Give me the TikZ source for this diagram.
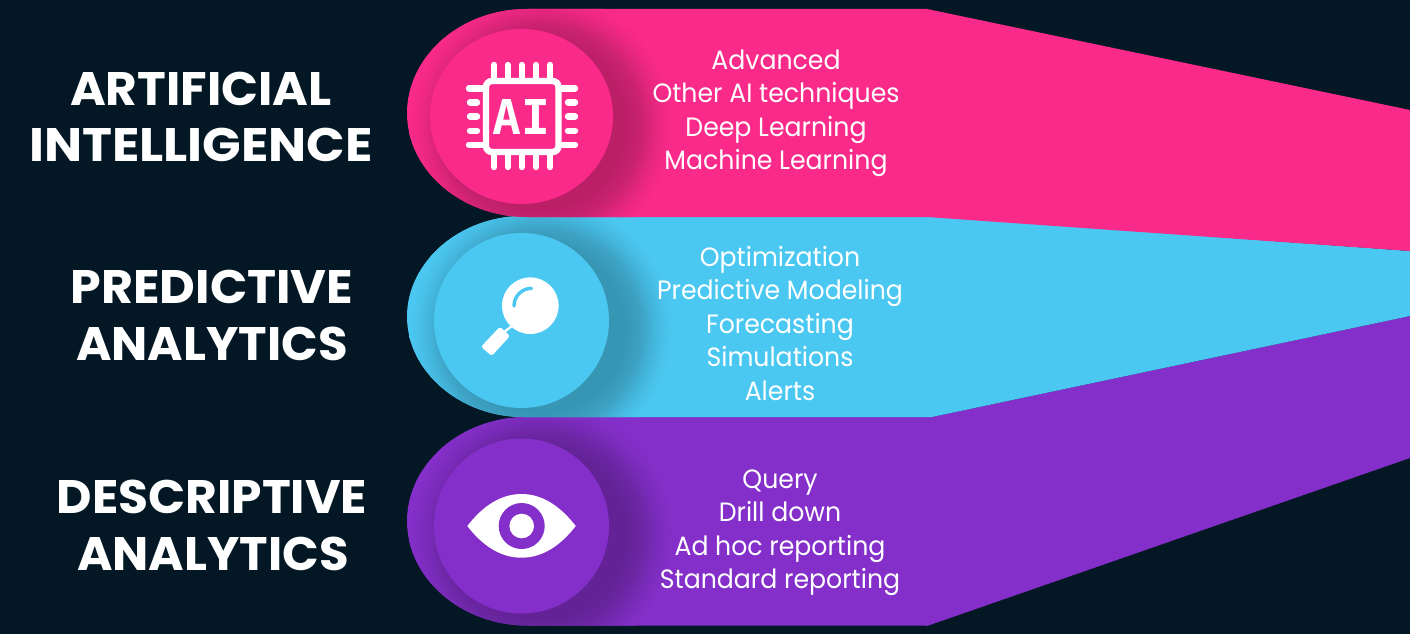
\documentclass[tikz,border=0pt]{standalone}
\usepackage{fontspec}
\setmainfont{Poppins}
\newfontfamily\iconfont{DejaVu Sans Mono}
\definecolor{bgc}{HTML}{031824}
\definecolor{pinkc}{HTML}{FA2A8A}
\definecolor{bluec}{HTML}{4BC8F2}
\definecolor{purplec}{HTML}{842FC9}
\colorlet{pinka}{pinkc!75!black}\colorlet{pinkb}{pinkc!81!black}\colorlet{pinkd}{pinkc!91!black}\colorlet{pinke}{pinkc!97!black}
\colorlet{bluea}{bluec!75!black}\colorlet{blueb}{bluec!81!black}\colorlet{blued}{bluec!91!black}\colorlet{bluee}{bluec!97!black}
\colorlet{purplea}{purplec!75!black}\colorlet{purpleb}{purplec!81!black}\colorlet{purpled}{purplec!91!black}\colorlet{purplee}{purplec!97!black}
\pgfdeclareradialshading{softpink}{\pgfpointorigin}{color(0bp)=(pinka); color(16bp)=(pinka); color(19bp)=(pinkb); color(21.5bp)=(pinkd); color(23.5bp)=(pinke); color(25bp)=(pinkc); color(50bp)=(pinkc)}
\pgfdeclareradialshading{softblue}{\pgfpointorigin}{color(0bp)=(bluea); color(16bp)=(bluea); color(19bp)=(blueb); color(21.5bp)=(blued); color(23.5bp)=(bluee); color(25bp)=(bluec); color(50bp)=(bluec)}
\pgfdeclareradialshading{softpurple}{\pgfpointorigin}{color(0bp)=(purplea); color(16bp)=(purplea); color(19bp)=(purpleb); color(21.5bp)=(purpled); color(23.5bp)=(purplee); color(25bp)=(purplec); color(50bp)=(purplec)}
\tikzset{
  headtxt/.style={text=white,anchor=base,inner sep=0pt,font=\fontsize{47}{47}\selectfont\bfseries,transform shape},
  bodytxt/.style={text=white,anchor=base,inner sep=0pt,font=\fontsize{26.5}{26.5}\selectfont,xscale=.95,transform shape},
  pinline/.style={white,line width=6.4pt,line cap=round}
}
\begin{document}
\begin{tikzpicture}[x=1pt,y=-1pt]
\useasboundingbox (0,0) rectangle (1410,634);
\fill[bgc] (0,0) rectangle (1410,634);
% purple band
\def\purpleband{(527,417) -- (932,417) -- (1410,316) -- (1410,458) -- (927,626) -- (927,625.5) -- (527,625.5) .. controls (461,625.5) and (407,578) .. (407,521) .. controls (407,464) and (461,417) .. (527,417) -- cycle}
\fill[purplec] \purpleband;
\begin{scope}\clip \purpleband; \shade[shading=softpurple] (541,534) circle[radius=132pt]; \end{scope}
\fill[purplec] (521.5,526) circle[radius=87.5pt];
% blue band
\def\blueband{(523,216) -- (927,216) -- (1410,251) -- (1410,316) -- (932,417) -- (523,417) .. controls (461,417) and (407,372) .. (407,316.5) .. controls (407,261) and (461,216) .. (523,216) -- cycle}
\fill[bluec] \blueband;
\begin{scope}\clip \blueband; \shade[shading=softblue] (541,329) circle[radius=132pt]; \end{scope}
\fill[bluec] (521.5,320.5) circle[radius=87.5pt];
% pink band
\def\pinkband{(527,9) -- (927,9) -- (1410,110) -- (1410,251) -- (927,217) -- (527,217) .. controls (461,217) and (407,170) .. (407,113) .. controls (407,56) and (461,9) .. (527,9) -- cycle}
\fill[pinkc] \pinkband;
\begin{scope}\clip \pinkband; \shade[shading=softpink] (541,125) circle[radius=132pt]; \end{scope}
\fill[pinkc] (521.5,116.5) ellipse[x radius=91.5pt,y radius=87.5pt];
% chip icon
\draw[white,line width=6.4pt,rounded corners=6pt] (486,81) rectangle (558.5,152);
\foreach \px in {494,507.7,521.7,536,550}{
  \draw[pinline] (\px,65) -- (\px,80);
  \draw[pinline] (\px,153) -- (\px,167);}
\foreach \py in {88.3,144.7}{
  \draw[pinline] (469,\py) -- (484,\py);
  \draw[pinline] (560,\py) -- (575,\py);}
\foreach \py in {102.3,116.3,130.7}{
  \draw[pinline] (470,\py) -- (477,\py);
  \draw[pinline] (568,\py) -- (575,\py);}
\node[text=white,inner sep=0pt,anchor=base,font=\fontsize{48}{48}\selectfont\iconfont\bfseries] (aitxt) at (521.5,134.5) {AI};
% magnifier icon
\fill[white] (530.3,305.7) circle[radius=28.3pt];
\draw[bluec,line width=3.4pt,line cap=round] (531.5,288.3) .. controls (522,288.3) and (514,296) .. (514,306);
\draw[white,line width=2.2pt] (512,326) -- (504,332);
\fill[white,rounded corners=2.5pt] (500,326.7) -- (510,336) -- (491.7,356) -- (481,346.7) -- cycle;
% eye icon
\fill[white] (467.3,526) .. controls (482,507) and (500,494) .. (521.5,494) .. controls (543,494) and (561,507) .. (575.7,526) .. controls (561,545) and (543,557.7) .. (521.5,557.7) .. controls (500,557.7) and (482,545) .. (467.3,526) -- cycle;
\fill[purplec] (521.7,526) circle[radius=23pt];
\fill[white] (521.7,526) circle[radius=12.3pt];
% headings
\node[headtxt,xscale=1.033] (h1a) at (201,105) {ARTIFICIAL};
\node[headtxt,xscale=1.078] (h1b) at (201,161) {INTELLIGENCE};
\node[headtxt,xscale=1.045] (h2a) at (212,303) {PREDICTIVE};
\node[headtxt,xscale=1.025] (h2b) at (212,360) {ANALYTICS};
\node[headtxt,xscale=1.037] (h3a) at (212,513) {DESCRIPTIVE};
\node[headtxt,xscale=1.025] (h3b) at (213,570) {ANALYTICS};
% pink list
\node[bodytxt] (p1) at (776,69.5) {Advanced};
\node[bodytxt] (p2) at (776,102) {Other AI techniques};
\node[bodytxt] (p3) at (776,136) {Deep Learning};
\node[bodytxt] (p4) at (776,169) {Machine Learning};
% blue list
\node[bodytxt] (b1) at (780,266) {Optimization};
\node[bodytxt] (b2) at (780,299) {Predictive Modeling};
\node[bodytxt] (b3) at (780,333) {Forecasting};
\node[bodytxt] (b4) at (780,366) {Simulations};
\node[bodytxt] (b5) at (780,400) {Alerts};
% purple list
\node[bodytxt] (u1) at (780,488) {Query};
\node[bodytxt] (u2) at (780,521) {Drill down};
\node[bodytxt] (u3) at (780,555) {Ad hoc reporting};
\node[bodytxt] (u4) at (780,588) {Standard reporting};
\end{tikzpicture}
\end{document}
